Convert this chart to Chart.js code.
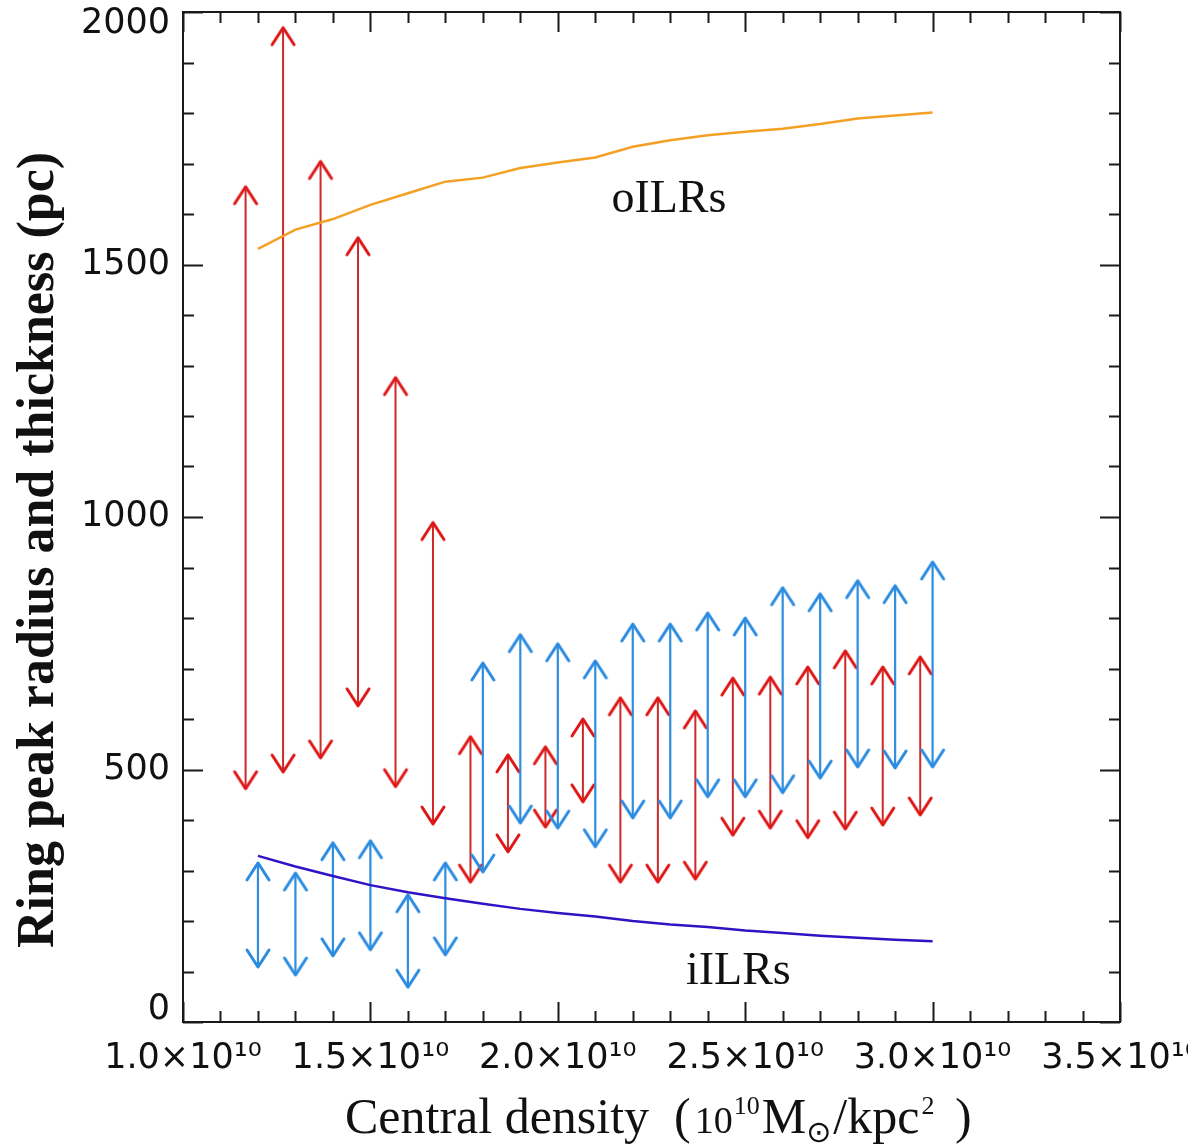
<!DOCTYPE html>
<html><head><meta charset="utf-8">
<script src="https://cdn.jsdelivr.net/npm/chart.js@4.4.0/dist/chart.umd.min.js"></script>
<style>html,body{margin:0;padding:0;background:#fff;} #wrap{width:1188px;height:1146px;}</style>
</head><body><div id="wrap"><canvas id="c" width="1188" height="1146"></canvas></div>
<script>
// ---- tick labels ----
const xTickValues = [1.0, 1.5, 2.0, 2.5, 3.0, 3.5];
const xTickLabels = ['1.0×10¹⁰', '1.5×10¹⁰', '2.0×10¹⁰', '2.5×10¹⁰', '3.0×10¹⁰', '3.5×10¹⁰'];
const yTickValues = [0, 500, 1000, 1500, 2000];
const yTickLabels = ['0', '500', '1000', '1500', '2000'];

// ---- ILR curves (x in units of 1e10 Msun/kpc^2, y in pc) ----
const lineX = [1.2, 1.3, 1.4, 1.5, 1.6, 1.7, 1.8, 1.9, 2.0, 2.1, 2.2, 2.3, 2.4, 2.5, 2.6, 2.7, 2.8, 2.9, 3.0];
const oILR  = [1531, 1569, 1590, 1618, 1641, 1664, 1672, 1691, 1702, 1712, 1733, 1746, 1756, 1763, 1769, 1778, 1789, 1795, 1801];
const iILR  = [329, 308, 289, 271, 257, 245, 234, 224, 216, 209, 200, 193, 188, 181, 176, 171, 167, 163, 160];

// ---- red ring extents ----
const redX    = [1.167, 1.267, 1.367, 1.467, 1.567, 1.667, 1.767, 1.867, 1.967, 2.067, 2.167, 2.267, 2.367, 2.467, 2.567, 2.667, 2.767, 2.867, 2.967];
const redLow  = [462, 495, 523, 626, 466, 392, 277, 337, 386, 436, 277, 277, 283, 370, 384, 365, 382, 390, 410];
const redHigh = [1654, 1969, 1704, 1553, 1276, 989, 565, 529, 545, 600, 642, 642, 616, 681, 683, 703, 735, 703, 723];

// ---- blue ring extents ----
const blueX    = [1.2, 1.3, 1.4, 1.5, 1.6, 1.7, 1.8, 1.9, 2.0, 2.1, 2.2, 2.3, 2.4, 2.5, 2.6, 2.7, 2.8, 2.9, 3.0];
const blueLow  = [109, 93, 131, 143, 69, 133, 297, 394, 384, 347, 404, 404, 446, 446, 454, 483, 505, 503, 505];
const blueHigh = [315, 295, 355, 359, 252, 315, 711, 767, 749, 715, 788, 788, 810, 800, 860, 848, 874, 864, 911];

// ---- annotation labels ----
const curveLabels = ['oILRs', 'iILRs'];
const curveLabelAt = [[2.143, 1603], [2.342, 76]];

const RED = '#cf2a2a', RED_HEAD = '#dd1616';
const BLUE = '#2f8ede', BLUE_HEAD = '#2a8be0';

function makeHead(color, up) {
  const c = document.createElement('canvas');
  const hw = 11, hl = 17, m = 3;
  c.width = 2 * (hw + m); c.height = 2 * (hl + m);
  const g = c.getContext('2d');
  const cx = c.width / 2, cy = c.height / 2;
  g.strokeStyle = color; g.lineWidth = 3; g.lineCap = 'round'; g.lineJoin = 'round';
  g.beginPath();
  const ey = up ? cy + hl : cy - hl;
  g.moveTo(cx - hw, ey); g.lineTo(cx, cy); g.lineTo(cx + hw, ey);
  g.stroke();
  return c;
}
const redUp = makeHead(RED_HEAD, true), redDown = makeHead(RED_HEAD, false);
const blueUp = makeHead(BLUE_HEAD, true), blueDown = makeHead(BLUE_HEAD, false);

function arrowData(xs, lo, hi) {
  const d = [];
  xs.forEach((x, i) => { d.push({x: x, y: lo[i]}); d.push({x: x, y: hi[i]}); d.push({x: x, y: null}); });
  return d;
}

const framePlugin = {
  id: 'frame',
  afterDatasetsDraw(chart) {
    const {ctx, chartArea: a} = chart;
    const xs = chart.scales.x, ys = chart.scales.y;
    ctx.save();
    ctx.strokeStyle = '#1a1a1a'; ctx.lineWidth = 2;
    ctx.strokeRect(a.left, a.top, a.right - a.left, a.bottom - a.top);
    ctx.beginPath();
    for (let k = 0; k <= 25; k++) {
      const px = Math.round(xs.getPixelForValue(1.0 + k * 0.1)) + 0.5;
      const L = (k % 5 === 0) ? 20 : 11;
      ctx.moveTo(px, a.bottom); ctx.lineTo(px, a.bottom - L);
      ctx.moveTo(px, a.top); ctx.lineTo(px, a.top + L);
    }
    for (let k = 0; k <= 20; k++) {
      const py = Math.round(ys.getPixelForValue(k * 100)) + 0.5;
      const L = (k % 5 === 0) ? 20 : 11;
      ctx.moveTo(a.left, py); ctx.lineTo(a.left + L, py);
      ctx.moveTo(a.right, py); ctx.lineTo(a.right - L, py);
    }
    ctx.stroke();
    ctx.restore();
  },
  afterDraw(chart) {
    const {ctx} = chart;
    const xs = chart.scales.x, ys = chart.scales.y;
    ctx.save();
    ctx.fillStyle = '#111';
    // curve labels
    ctx.font = '46px "Liberation Serif", serif';
    ctx.textAlign = 'left'; ctx.textBaseline = 'alphabetic';
    curveLabels.forEach((t, i) => {
      ctx.fillText(t, xs.getPixelForValue(curveLabelAt[i][0]), ys.getPixelForValue(curveLabelAt[i][1]));
    });
    // y title
    ctx.save();
    ctx.translate(53, 550);
    ctx.rotate(-Math.PI / 2);
    ctx.font = 'bold 52px "Liberation Serif", serif';
    ctx.textAlign = 'center';
    ctx.fillText('Ring peak radius and thickness (pc)', 0, 0);
    ctx.restore();
    // x title (pieces for super/subscripts)
    const base = 1133;
    const pieces = [
      {t: 'Central density  (', f: '50px "Liberation Serif", serif', dy: 0, gap: 4},
      {t: '10', f: '38px "Liberation Serif", serif', dy: 0, gap: 1},
      {t: '10', f: '26px "Liberation Serif", serif', dy: -19, gap: 2},
      {t: 'M', f: '50px "Liberation Serif", serif', dy: 0, gap: 0},
      {t: '⊙', f: '30px "DejaVu Sans", sans-serif', dy: 9, gap: 2},
      {t: '/kpc', f: '50px "Liberation Serif", serif', dy: 0, gap: 2},
      {t: '2', f: '26px "Liberation Serif", serif', dy: -19, gap: 8},
      {t: ' )', f: '50px "Liberation Serif", serif', dy: 0, gap: 0}
    ];
    ctx.textAlign = 'left';
    let x = 345;
    pieces.forEach(p => {
      ctx.font = p.f;
      ctx.fillText(p.t, x, base + p.dy);
      x += ctx.measureText(p.t).width + p.gap;
    });
    ctx.restore();
  }
};

const tickFont = {family: '"DejaVu Sans", sans-serif', size: 35};

new Chart(document.getElementById('c'), {
  type: 'line',
  data: {
    datasets: [
      {label: 'oILR', data: lineX.map((x, i) => ({x: x, y: oILR[i]})), borderColor: '#f3a024', borderWidth: 2.5, pointRadius: 0, tension: 0},
      {label: 'iILR', data: lineX.map((x, i) => ({x: x, y: iILR[i]})), borderColor: '#3212c4', borderWidth: 2.5, pointRadius: 0, tension: 0},
      {label: 'blue', data: arrowData(blueX, blueLow, blueHigh), borderColor: BLUE, borderWidth: 2.2, spanGaps: false,
        pointRadius: 5, pointStyle: (c) => (c.dataIndex % 3 === 0 ? blueDown : blueUp)},
      {label: 'red', data: arrowData(redX, redLow, redHigh), borderColor: RED, borderWidth: 2, spanGaps: false,
        pointRadius: 5, pointStyle: (c) => (c.dataIndex % 3 === 0 ? redDown : redUp)}
    ]
  },
  options: {
    responsive: false, animation: false, events: [],
    layout: {padding: {top: 12, right: 68, left: 0, bottom: 0}},
    plugins: {legend: {display: false}, tooltip: {enabled: false}},
    scales: {
      x: {
        type: 'linear', min: 1.0, max: 3.5,
        grid: {display: false, drawTicks: false}, border: {display: false},
        afterBuildTicks: (s) => { s.ticks = xTickValues.map(v => ({value: v})); },
        afterFit: (s) => { s.height = 124; s.paddingLeft = 0; s.paddingRight = 0; },
        ticks: {autoSkip: false, maxRotation: 0, minRotation: 0, padding: 16, color: '#111', font: tickFont,
          callback: (v, i) => xTickLabels[i]}
      },
      y: {
        type: 'linear', min: 0, max: 2000,
        grid: {display: false, drawTicks: false}, border: {display: false},
        afterBuildTicks: (s) => { s.ticks = yTickValues.map(v => ({value: v})); },
        afterFit: (s) => { s.width = 183; s.paddingTop = 0; s.paddingBottom = 0; },
        ticks: {autoSkip: false, padding: 13, color: '#111', font: {family: '"DejaVu Sans", sans-serif', size: 35, lineHeight: 0.7},
          callback: (v, i) => (i === yTickLabels.length - 1 ? ['', yTickLabels[i]] : (i === 0 ? [yTickLabels[i], ''] : yTickLabels[i]))}
      }
    }
  },
  plugins: [framePlugin]
});
</script></body></html>
